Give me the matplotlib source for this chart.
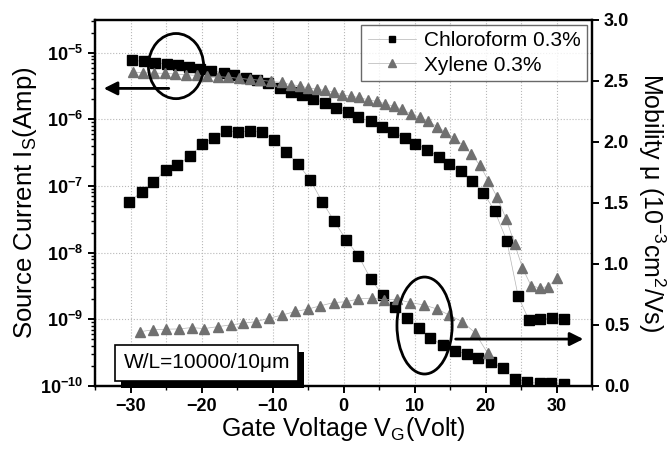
import matplotlib
matplotlib.use("Agg")
import matplotlib.pyplot as plt
import matplotlib.patheffects as pe
from matplotlib.patches import Ellipse
from matplotlib.ticker import FixedLocator, FixedFormatter, MultipleLocator, LogLocator, NullFormatter

plt.rcParams['font.family'] = ['Liberation Sans', 'DejaVu Sans']
plt.rcParams['mathtext.fontset'] = 'custom'
plt.rcParams['mathtext.rm'] = 'Liberation Sans'
plt.rcParams['mathtext.it'] = 'Liberation Sans:italic'
plt.rcParams['mathtext.bf'] = 'Liberation Sans:bold'

# source current, chloroform 0.3% (A)
vg_chl_i = [-29.8, -28.1, -26.5, -24.9, -23.3, -21.7, -20.2, -18.6, -16.9, -15.4,
            -13.7, -12.2, -10.6, -8.9, -7.4, -5.8, -4.3, -2.6, -1.0, 0.6,
            2.1, 3.8, 5.4, 7.0, 8.6, 10.1, 11.8, 13.4, 14.9, 16.5,
            18.1, 19.7, 21.3, 23.0, 24.6, 26.1, 27.7, 29.3, 31.0]
i_chl = [7.7e-6, 7.4e-6, 7.1e-6, 6.8e-6, 6.5e-6, 6.1e-6, 5.75e-6, 5.4e-6, 5.0e-6, 4.6e-6,
         4.2e-6, 3.85e-6, 3.47e-6, 3.0e-6, 2.6e-6, 2.3e-6, 2.04e-6, 1.76e-6, 1.5e-6, 1.27e-6,
         1.07e-6, 9.3e-7, 7.8e-7, 6.4e-7, 5.25e-7, 4.3e-7, 3.5e-7, 2.75e-7, 2.13e-7, 1.66e-7,
         1.17e-7, 7.9e-8, 4.2e-8, 1.5e-8, 2.2e-9, 9.8e-10, 1.0e-9, 1.04e-9, 1.0e-9]

# source current, xylene 0.3% (A)
vg_xyl_i = [-29.7, -28.2, -26.7, -25.2, -23.7, -22.2, -20.7, -19.2, -17.7, -16.2,
            -14.7, -13.2, -11.7, -10.2, -8.7, -7.4, -6.2, -5.0, -3.8, -2.6,
            -1.4, -0.2, 1.1, 2.2, 3.4, 4.7, 5.9, 7.1, 8.2, 9.5,
            10.7, 11.9, 13.2, 14.3, 15.6, 16.8, 18.0, 19.2, 20.4, 21.6,
            22.9, 24.1, 25.2, 26.4, 27.6, 28.8, 30.0]
i_xyl = [5.13e-6, 5.01e-6, 4.95e-6, 4.9e-6, 4.79e-6, 4.68e-6, 4.57e-6, 4.47e-6, 4.37e-6, 4.27e-6,
         4.12e-6, 3.98e-6, 3.85e-6, 3.72e-6, 3.58e-6, 3.31e-6, 3.2e-6, 2.95e-6, 2.85e-6, 2.72e-6,
         2.57e-6, 2.34e-6, 2.21e-6, 2.13e-6, 1.97e-6, 1.86e-6, 1.71e-6, 1.56e-6, 1.43e-6, 1.2e-6,
         1.08e-6, 9.3e-7, 7.8e-7, 6.5e-7, 5.2e-7, 4.1e-7, 3.05e-7, 2.04e-7, 1.2e-7, 6.9e-8,
         3.2e-8, 1.35e-8, 5.9e-9, 3.2e-9, 2.95e-9, 3.1e-9, 4.1e-9]

# mobility, chloroform 0.3% (1e-3 cm2/Vs)
vg_chl_mu = [-30.2, -28.4, -26.8, -25.0, -23.4, -21.6, -19.9, -18.3, -16.5, -14.9,
             -13.2, -11.5, -9.8, -8.1, -6.4, -4.7, -3.0, -1.3, 0.35, 2.1,
             3.8, 5.5, 7.2, 8.9, 10.6, 12.2, 14.0, 15.7, 17.4, 19.0,
             20.8, 22.4, 24.1, 25.9, 27.7, 29.2, 31.0]
mu_chl = [1.51, 1.59, 1.67, 1.77, 1.81, 1.885, 1.98, 2.035, 2.09, 2.08,
          2.09, 2.08, 2.02, 1.92, 1.82, 1.69, 1.51, 1.35, 1.20, 1.066,
          0.88, 0.746, 0.65, 0.56, 0.473, 0.39, 0.336, 0.29, 0.26, 0.227,
          0.2, 0.145, 0.055, 0.03, 0.02, 0.02, 0.015]

# mobility, xylene 0.3%
vg_xyl_mu = [-28.6, -26.8, -25.0, -23.2, -21.4, -19.6, -17.7, -15.9, -14.1, -12.3,
             -10.5, -8.7, -6.8, -5.0, -3.3, -1.4, 0.35, 2.1, 4.0, 5.7,
             7.5, 9.4, 11.3, 13.2, 14.9, 16.7, 18.5, 20.3]
mu_xyl = [0.445, 0.46, 0.465, 0.467, 0.478, 0.47, 0.486, 0.5, 0.514, 0.527,
          0.555, 0.58, 0.61, 0.63, 0.656, 0.683, 0.69, 0.713, 0.72, 0.705,
          0.71, 0.683, 0.664, 0.63, 0.58, 0.527, 0.437, 0.268]

labels = ['Chloroform 0.3%', 'Xylene 0.3%']
decades = [1e-10, 1e-9, 1e-8, 1e-7, 1e-6, 1e-5]
decade_labels = [r'$\mathbf{10^{-10}}$', r'$\mathbf{10^{-9}}$', r'$\mathbf{10^{-8}}$',
                 r'$\mathbf{10^{-7}}$', r'$\mathbf{10^{-6}}$', r'$\mathbf{10^{-5}}$']

fig = plt.figure(figsize=(6.69, 4.54), dpi=100)
ax = fig.add_axes([0.142, 0.150, 0.743, 0.806])
ax2 = ax.twinx()

line_kw = dict(color='#b4b4b4', lw=0.5)
gray = '#707070'
h1, = ax.plot(vg_chl_i, i_chl, marker='s', ms=7, mfc='k', mec='k', label=labels[0], **line_kw)
h2, = ax.plot(vg_xyl_i, i_xyl, marker='^', ms=7.5, mfc=gray, mec=gray, label=labels[1], **line_kw)
ax2.plot(vg_chl_mu, mu_chl, marker='s', ms=7, mfc='k', mec='k', **line_kw)
ax2.plot(vg_xyl_mu, mu_xyl, marker='^', ms=7.5, mfc=gray, mec=gray, **line_kw)

ax.set_yscale('log')
ax.set_ylim(1e-10, 3.1e-5)
ax.set_xlim(-35, 35)
ax2.set_ylim(0, 3.0)

ax.yaxis.set_major_locator(FixedLocator(decades))
ax.yaxis.set_major_formatter(FixedFormatter(decade_labels))
ax.yaxis.set_minor_locator(LogLocator(base=10, subs=range(2, 10)))
ax.yaxis.set_minor_formatter(NullFormatter())
ax.xaxis.set_major_locator(MultipleLocator(10))
ax.xaxis.set_minor_locator(MultipleLocator(5))
ax2.yaxis.set_major_locator(MultipleLocator(0.5))
ax2.yaxis.set_major_formatter(matplotlib.ticker.FormatStrFormatter('%.1f'))

ax.grid(True, which='major', ls=':', color='#b8b8b8', lw=0.8)
ax.xaxis.grid(True, which='minor', ls=':', color='#b8b8b8', lw=0.8)
ax.set_axisbelow(True)

for a in (ax, ax2):
    for s in a.spines.values():
        s.set_linewidth(1.6)
ax.tick_params(axis='both', which='major', direction='out', length=5, width=1.4, labelsize=13)
ax.tick_params(axis='both', which='minor', direction='out', length=3, width=1.0)
ax.tick_params(top=False, which='both')
ax2.tick_params(axis='y', which='major', direction='out', length=5, width=1.4, labelsize=13)
for t in ax.get_xticklabels() + ax2.get_yticklabels():
    t.set_fontweight('bold')

ax.set_xlabel('Gate Voltage V$_\\mathregular{G}$(Volt)', fontsize=18, labelpad=0)
ax.set_ylabel('Source Current I$_\\mathregular{S}$(Amp)', fontsize=18.5, labelpad=1)
ax2.set_ylabel('Mobility \u03bc (10$^{-3}$cm$^2$/Vs)', fontsize=18, rotation=270,
               va='bottom', labelpad=5)

leg = ax2.legend(handles=[h1, h2], loc='upper right', fontsize=15, frameon=True, fancybox=False,
                 edgecolor='#444444', borderaxespad=0.25, handlelength=2.3, handletextpad=0.4,
                 markerscale=0.7, borderpad=0.3, labelspacing=0.25)
leg.get_frame().set_linewidth(1.0)

# circles and arrows marking which axis each curve set belongs to
ax2.add_patch(Ellipse((0.163, 0.874), 0.111, 0.178, transform=ax.transAxes,
                      fill=False, ec='k', lw=2, zorder=5))
ax2.annotate('', xy=(0.012, 0.813), xytext=(0.154, 0.813), xycoords='axes fraction',
             arrowprops=dict(arrowstyle='-|>', lw=2, color='k', mutation_scale=20))
ax2.add_patch(Ellipse((0.663, 0.165), 0.111, 0.265, transform=ax.transAxes,
                      fill=False, ec='k', lw=2, zorder=5))
ax2.annotate('', xy=(0.988, 0.128), xytext=(0.72, 0.128), xycoords='axes fraction',
             arrowprops=dict(arrowstyle='-|>', lw=2, color='k', mutation_scale=20))

# W/L label box with drop shadow
wl = ax2.text(0.225, 0.063, 'W/L=10000/10\u03bcm', transform=ax.transAxes, ha='center',
              va='center', fontsize=15, color='k', zorder=7,
              bbox=dict(boxstyle='square,pad=0.4', fc='white', ec='k', lw=1.2))
wl.get_bbox_patch().set_path_effects([
    pe.SimplePatchShadow(offset=(4, -5), shadow_rgbFace='k', alpha=1.0), pe.Normal()])

fig.savefig('out.png', dpi=100)
